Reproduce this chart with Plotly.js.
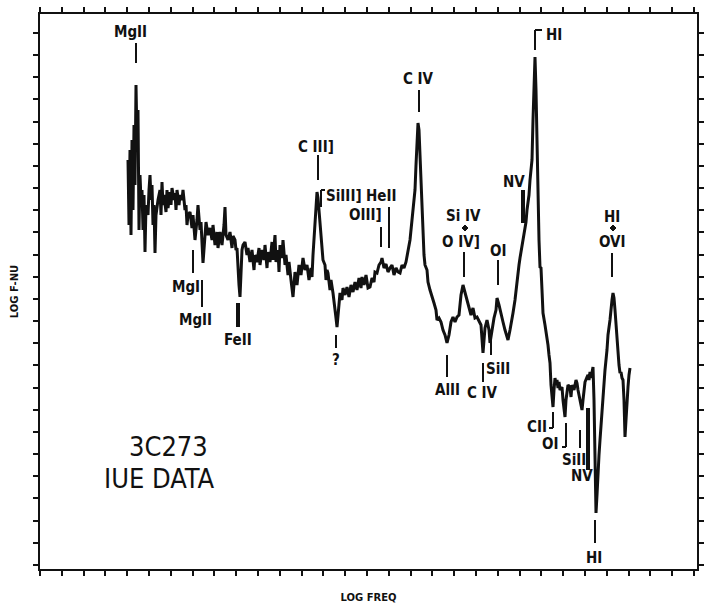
<!DOCTYPE html>
<html>
<head>
<meta charset="utf-8">
<script src="https://cdn.plot.ly/plotly-3.0.1.min.js"></script>
<style>html,body{margin:0;padding:0;background:#fff;}#chart{width:705px;height:604px;}</style>
</head>
<body>
<div id="chart"></div>
<script>
// Spectrum: log frequency (arbitrary units) vs log F-nu (arbitrary units)
const logFreq = [8.8,8.9,9.0,9.1,9.2,9.3,9.4,9.5,9.6,9.7,9.8,9.9,10.0,10.1,10.2,10.3,10.4,10.5,10.6,10.8,10.9,11.0,11.1,11.2,11.3,11.4,11.5,11.6,11.8,12.0,12.1,12.2,12.3,12.4,12.6,12.7,12.8,13.0,13.1,13.2,13.4,13.5,13.6,13.7,13.9,14.0,14.2,14.3,14.5,14.6,14.7,14.8,15.0,15.2,15.3,15.5,15.7,15.8,16.0,16.1,16.3,16.5,16.6,16.8,17.0,17.2,17.3,17.5,17.7,17.8,18.0,18.2,18.4,18.5,18.6,18.8,19.0,19.2,19.3,19.5,19.6,19.7,19.8,19.9,20.0,20.1,20.2,20.3,20.5,20.7,20.8,21.0,21.2,21.4,21.5,21.7,21.9,22.0,22.2,22.4,22.5,22.7,22.8,23.0,23.2,23.3,23.5,23.6,23.8,23.9,24.0,24.2,24.3,24.5,24.6,24.8,24.9,25.1,25.3,25.5,25.7,25.9,26.1,26.3,26.5,26.7,26.9,27.1,27.2,27.3,27.4,27.5,27.6,27.7,27.8,27.9,28.0,28.1,28.2,28.3,28.5,28.6,28.7,28.8,29.0,29.1,29.3,29.4,29.5,29.6,29.7,29.8,29.9,30.0,30.2,30.3,30.5,30.7,30.9,31.1,31.3,31.5,31.7,31.9,32.1,32.2,32.4,32.6,32.8,33.0,33.2,33.4,33.5,33.7,33.9,34.1,34.2,34.4,34.6,34.8,35.0,35.2,35.4,35.6,35.8,36.0,36.2,36.4,36.6,36.7,36.8,36.9,37.0,37.2,37.4,37.5,37.6,37.7,37.8,37.9,38.0,38.1,38.2,38.3,38.4,38.5,38.7,38.8,39.0,39.2,39.4,39.6,39.7,39.9,40.1,40.3,40.5,40.7,40.9,41.1,41.3,41.5,41.7,41.9,42.1,42.3,42.5,42.7,42.9,43.1,43.3,43.5,43.7,43.9,44.1,44.3,44.5,44.7,44.9,45.0,45.2,45.4,45.6,45.7,45.9,46.1,46.3,46.5,46.7,46.8,47.0,47.2,47.3,47.5,47.7,47.9,48.0,48.2,48.4,48.6,48.7,48.9,49.0,49.2,49.3,49.4,49.5,49.6,49.7,49.8,49.9,50.0,50.1,50.2,50.3,50.5,50.7,50.8,50.9,51.0,51.1,51.2,51.3,51.4,51.5,51.6,51.7,51.8,51.9,52.0,52.2,52.3,52.4,52.5,52.6,52.7,52.8,53.0,53.1,53.2,53.4,53.6,53.7,53.8,53.9,54.0,54.1,54.2,54.3,54.4,54.5,54.7,54.8,54.9,55.0,55.1,55.2,55.3,55.4,55.5,55.6,55.7,55.8,55.9,56.0,56.2,56.4,56.5,56.7,56.8,57.0,57.1,57.2,57.3,57.4,57.5,57.6,57.7,57.8,57.9,58.0,58.1,58.2,58.3,58.4,58.5,58.6,58.7,58.8,58.9,59.0];
const logFnu = [40.9,34.4,41.9,33.4,42.9,35.9,44.4,38.4,48.4,42.9,45.9,33.9,39.4,36.9,37.9,33.9,37.4,31.7,36.4,35.4,37.9,39.4,36.9,38.4,34.4,36.4,31.6,35.4,36.9,37.9,35.4,38.7,36.4,37.4,35.7,37.9,36.1,37.7,36.4,38.1,36.9,37.6,35.9,37.9,36.4,37.4,36.9,37.9,35.9,36.4,34.4,35.4,35.7,34.1,35.4,32.9,34.9,36.4,33.9,34.7,30.6,32.9,34.7,33.4,34.1,32.9,34.4,32.4,33.7,32.1,33.7,32.4,34.4,36.2,33.4,32.9,33.7,32.1,33.3,32.9,31.9,32.1,29.9,28.4,27.2,29.9,31.9,32.4,32.7,31.4,32.1,30.7,31.9,29.9,31.4,30.7,32.1,30.4,31.9,30.9,32.4,30.1,31.7,30.7,32.7,30.9,33.4,30.7,31.9,29.7,32.4,31.1,32.9,30.4,31.4,29.4,30.7,28.9,27.2,29.7,28.4,30.4,29.4,31.1,29.9,30.4,28.9,30.1,29.2,31.4,32.9,35.4,36.9,37.7,37.1,35.9,34.9,33.4,31.9,30.9,30.4,28.9,29.9,29.6,27.9,28.9,27.6,26.9,25.9,25.1,24.2,25.4,26.9,27.6,26.9,28.1,27.4,28.2,27.2,28.4,27.7,28.7,27.9,29.1,28.1,29.2,28.4,29.4,28.1,28.2,29.1,28.7,29.7,29.6,30.4,30.7,31.1,30.1,30.5,29.7,30.1,30.4,29.4,30.1,29.7,29.6,30.4,30.1,30.7,31.2,31.7,32.4,32.9,34.9,36.9,37.9,40.4,42.9,44.6,43.9,40.9,38.4,36.9,33.9,31.4,30.4,29.9,28.7,27.9,27.1,26.6,25.9,24.9,25.1,24.7,23.9,23.4,22.6,23.4,24.7,25.2,24.7,25.2,25.4,27.4,28.4,27.7,26.9,26.2,25.4,26.1,25.1,25.2,24.7,24.4,21.6,24.1,24.9,23.9,22.6,23.9,25.1,25.9,27.1,26.4,25.4,24.7,23.9,23.1,22.9,23.9,24.9,25.6,26.9,28.9,30.4,31.1,32.2,33.4,34.7,35.9,37.4,38.9,40.9,44.9,48.4,51.2,47.9,41.6,36.9,32.9,30.2,30.1,27.9,25.6,24.4,23.2,22.4,21.4,20.6,18.4,17.4,16.2,17.9,19.1,18.4,18.9,18.1,18.7,17.9,18.2,16.9,15.9,15.2,16.9,17.7,18.4,18.2,17.2,18.4,17.9,18.9,18.6,17.9,17.4,16.9,16.4,15.9,16.9,17.9,18.7,19.2,19.4,18.9,19.7,19.1,19.9,20.2,16.9,10.9,5.6,7.4,9.9,11.4,12.9,15.9,18.4,19.9,21.9,23.4,24.9,26.4,26.9,27.6,27.1,25.9,24.4,23.2,21.9,20.4,19.6,19.7,19.1,18.9,16.9,13.2,14.9,17.4,18.2,19.4,20.1];

// Line identifications
const lineLabels = ["MgII","C III]","SiIII]","OIII]","HeII","C IV","Si IV","O IV]","OI","NV","HI","HI","OVI","MgI","MgII","FeII","?","AlII","C IV","SiII","CII","OI","SiII","NV","HI"];
const labelX =     [9.0, 27.6, 28.5, 32.5, 34.1, 37.8, 42.3, 42.1, 45.8, 47.4, 50.5, 57.2, 57.2, 14.6, 15.5, 19.8, 29.6, 40.7, 44.2, 45.8, 49.7, 51.0, 53.4, 54.2, 55.4];
const labelY =     [53.7, 42.2, 37.3, 35.4, 37.3, 49.0, 35.3, 32.7, 31.8, 38.7, 53.4, 35.2, 32.7, 28.2, 24.9, 22.9, 20.9, 17.9, 17.6, 20.0, 14.2, 12.5, 10.9, 9.3, 1.1];
const labelAnchor =["center","center","left","center","center","center","center","center","center","center","left","center","center","center","center","center","center","center","center","center","center","center","center","center","center"];
// Small diamonds joining blended identifications (Si IV + O IV], H I + O VI)
const blendX = [42.5, 57.3];
const blendY = [34.1, 34.1];

// Tick marks for identifications (x, y from, y to)
const tickX  = [9.6, 27.8, 28.1, 34.1, 34.9, 37.9, 42.4, 45.8, 48.2, 48.4, 49.5, 57.2, 15.3, 16.2, 19.8, 29.6, 40.7, 44.3, 45.1, 51.3, 52.6, 54.0, 54.7, 54.9, 55.5];
const tickY0 = [52.6, 41.4, 37.9, 34.2, 36.2, 47.9, 31.7, 30.9, 37.9, 37.9, 53.9, 31.6, 31.9, 28.9, 26.6, 23.4, 21.4, 20.6, 22.9, 15.7, 14.6, 13.9, 16.1, 16.1, 4.9];
const tickY1 = [50.6, 38.9, 36.2, 32.2, 32.1, 45.7, 29.2, 28.4, 34.6, 34.6, 51.9, 29.2, 29.6, 26.2, 24.2, 22.1, 19.2, 18.7, 21.4, 14.1, 12.2, 12.1, 9.9, 9.9, 2.6];
const tickW  = [2, 2, 2, 2, 2, 2, 2, 2, 2, 2, 2, 2, 2, 2, 4, 2, 2, 2, 2, 2, 2, 2, 2, 2, 2];
// Bracket hooks
const hookX0 = [28.1, 49.5, 50.9, 52.2];
const hookX1 = [28.5, 50.2, 51.3, 52.6];
const hookY  = [37.9, 53.9, 14.1, 12.2];

const ink = '#111111';
const fam = 'DejaVu Sans Condensed, DejaVu Sans, sans-serif';
const labFont = {family: fam, size: 15, color: ink, weight: 'bold'};

const shapes = [];
for (let i = 0; i < tickX.length; i++) {
  shapes.push({type: 'line', xref: 'x', yref: 'y', x0: tickX[i], x1: tickX[i], y0: tickY0[i], y1: tickY1[i],
    line: {color: ink, width: tickW[i]}});
}
for (let i = 0; i < hookX0.length; i++) {
  shapes.push({type: 'line', xref: 'x', yref: 'y', x0: hookX0[i], x1: hookX1[i], y0: hookY[i], y1: hookY[i],
    line: {color: ink, width: 2}});
}
for (let i = 0; i < blendX.length; i++) {
  const cx = blendX[i], cy = blendY[i], d = 0.3;
  shapes.push({type: 'path', xref: 'x', yref: 'y',
    path: `M ${cx - d} ${cy} L ${cx} ${cy + d} L ${cx + d} ${cy} L ${cx} ${cy - d} Z`,
    fillcolor: ink, line: {color: ink, width: 1}});
}

const annotations = [];
for (let i = 0; i < lineLabels.length; i++) {
  annotations.push({x: labelX[i], y: labelY[i], xref: 'x', yref: 'y', text: lineLabels[i], showarrow: false,
    xanchor: labelAnchor[i], yanchor: 'middle', borderpad: 0, font: labFont});
}
annotations.push({x: 8.8, y: 12.3, xref: 'x', yref: 'y', text: '3C273', showarrow: false, xanchor: 'left', yanchor: 'middle',
  borderpad: 0, font: {family: fam, size: 27, color: ink}});
annotations.push({x: 6.3, y: 9.1, xref: 'x', yref: 'y', text: 'IUE DATA', showarrow: false, xanchor: 'left', yanchor: 'middle',
  borderpad: 0, font: {family: fam, size: 27, color: ink}});

const axisCommon = {
  showgrid: false, zeroline: false, showline: true, linecolor: ink, linewidth: 2,
  mirror: 'allticks', ticks: 'outside', ticklen: 5, tickwidth: 2, tickcolor: ink,
  showticklabels: false, automargin: false
};

const trace = {x: logFreq, y: logFnu, type: 'scatter', mode: 'lines',
  line: {color: ink, width: 3}, hoverinfo: 'skip'};

const layout = {
  width: 705, height: 604,
  margin: {l: 40, r: 8, t: 14, b: 35},
  paper_bgcolor: '#ffffff', plot_bgcolor: '#ffffff',
  showlegend: false,
  xaxis: Object.assign({}, axisCommon, {range: [0, 65.7], tick0: 0, dtick: 2.18,
    title: {text: 'LOG FREQ', standoff: 19, font: {family: 'DejaVu Sans', size: 10, color: ink, weight: 'bold'}}}),
  yaxis: Object.assign({}, axisCommon, {range: [0, 55.5], tick0: 0.4, dtick: 2.217,
    title: {text: 'LOG F-NU', standoff: 13, font: {family: 'DejaVu Sans', size: 10, color: ink, weight: 'bold'}}}),
  shapes: shapes,
  annotations: annotations
};

Plotly.newPlot('chart', [trace], layout, {displayModeBar: false, staticPlot: true});
</script>
</body>
</html>
